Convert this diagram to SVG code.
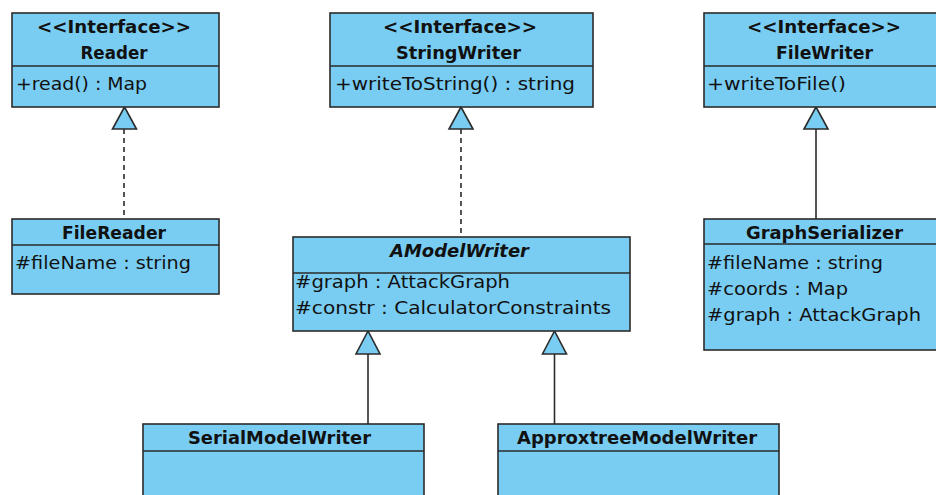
<svg xmlns="http://www.w3.org/2000/svg" width="936" height="495" viewBox="0 0 936 495">
  <style>
    .box { fill: #79cdf3; stroke: #2b2b2b; stroke-width: 1.6; }
    .sep { stroke: #2b2b2b; stroke-width: 1.6; fill: none; }
    .t { font-family: "DejaVu Sans", "Liberation Sans", sans-serif; font-size: 17px; fill: #111; }
    .b { font-weight: bold; text-anchor: middle; }
    .i { font-style: italic; }
    .edge { stroke: #2b2b2b; stroke-width: 1.6; fill: none; }
    .dash { stroke-dasharray: 5 4; }
    .head { fill: #79cdf3; stroke: #2b2b2b; stroke-width: 1.6; stroke-linejoin: miter; }
  </style>
  <rect width="936" height="495" fill="#ffffff"/>

  <!-- inheritance / realization connectors -->
  <g id="connectors">
    <line class="edge dash" x1="124" y1="129" x2="124" y2="219"/>
    <polygon class="head" points="124.5,107 112.5,129 136.5,129"/>
    <line class="edge dash" x1="461" y1="129" x2="461" y2="237"/>
    <polygon class="head" points="461,107 449,129 473,129"/>
    <line class="edge" x1="816" y1="129" x2="816" y2="219"/>
    <polygon class="head" points="816,107 804,129 828,129"/>
    <line class="edge" x1="368" y1="354" x2="368" y2="424"/>
    <polygon class="head" points="368,331 356,354 380,354"/>
    <line class="edge" x1="554.5" y1="354" x2="554.5" y2="424"/>
    <polygon class="head" points="554.5,331 542.5,354 566.5,354"/>
  </g>

  <g id="reader">
    <rect class="box" x="12" y="13" width="207" height="94"/>
    <line class="sep" x1="12" y1="66" x2="219" y2="66"/>
    <text class="t b" x="114" y="33" textLength="154" lengthAdjust="spacingAndGlyphs">&lt;&lt;Interface&gt;&gt;</text>
    <text class="t b" x="114" y="59" textLength="67" lengthAdjust="spacingAndGlyphs">Reader</text>
    <text class="t" x="16" y="90" textLength="131" lengthAdjust="spacingAndGlyphs">+read() : Map</text>
  </g>

  <g id="stringwriter">
    <rect class="box" x="330" y="13" width="263" height="94"/>
    <line class="sep" x1="330" y1="66" x2="593" y2="66"/>
    <text class="t b" x="460" y="33" textLength="154" lengthAdjust="spacingAndGlyphs">&lt;&lt;Interface&gt;&gt;</text>
    <text class="t b" x="458.5" y="59" textLength="125" lengthAdjust="spacingAndGlyphs">StringWriter</text>
    <text class="t" x="335" y="90" textLength="240" lengthAdjust="spacingAndGlyphs">+writeToString() : string</text>
  </g>

  <g id="filewriter">
    <rect class="box" x="704" y="13" width="240" height="94"/>
    <line class="sep" x1="704" y1="66" x2="944" y2="66"/>
    <text class="t b" x="824" y="33" textLength="154" lengthAdjust="spacingAndGlyphs">&lt;&lt;Interface&gt;&gt;</text>
    <text class="t b" x="824.5" y="59" textLength="97" lengthAdjust="spacingAndGlyphs">FileWriter</text>
    <text class="t" x="707" y="90" textLength="139" lengthAdjust="spacingAndGlyphs">+writeToFile()</text>
  </g>

  <g id="filereader">
    <rect class="box" x="12" y="219" width="207" height="75"/>
    <line class="sep" x1="12" y1="245" x2="219" y2="245"/>
    <text class="t b" x="114" y="238.5" textLength="104" lengthAdjust="spacingAndGlyphs">FileReader</text>
    <text class="t" x="15" y="268.5" textLength="176" lengthAdjust="spacingAndGlyphs">#fileName : string</text>
  </g>

  <g id="amodelwriter">
    <rect class="box" x="293" y="237" width="337" height="94"/>
    <line class="sep" x1="293" y1="273" x2="630" y2="273"/>
    <text class="t b i" x="459.5" y="257" textLength="139" lengthAdjust="spacingAndGlyphs">AModelWriter</text>
    <text class="t" x="295" y="288" textLength="215" lengthAdjust="spacingAndGlyphs">#graph : AttackGraph</text>
    <text class="t" x="295" y="314" textLength="316" lengthAdjust="spacingAndGlyphs">#constr : CalculatorConstraints</text>
  </g>

  <g id="graphserializer">
    <rect class="box" x="704" y="219" width="240" height="131"/>
    <line class="sep" x1="704" y1="244" x2="944" y2="244"/>
    <text class="t b" x="824.5" y="238.5" textLength="157" lengthAdjust="spacingAndGlyphs">GraphSerializer</text>
    <text class="t" x="707" y="268.5" textLength="176" lengthAdjust="spacingAndGlyphs">#fileName : string</text>
    <text class="t" x="707" y="294.5" textLength="141" lengthAdjust="spacingAndGlyphs">#coords : Map</text>
    <text class="t" x="707" y="320.5" textLength="214" lengthAdjust="spacingAndGlyphs">#graph : AttackGraph</text>
  </g>

  <g id="serialmodelwriter">
    <rect class="box" x="143" y="424" width="281" height="80"/>
    <line class="sep" x1="143" y1="451" x2="424" y2="451"/>
    <text class="t b" x="279.5" y="444" textLength="183" lengthAdjust="spacingAndGlyphs">SerialModelWriter</text>
  </g>

  <g id="approxtreemodelwriter">
    <rect class="box" x="498" y="424" width="281" height="80"/>
    <line class="sep" x1="498" y1="451" x2="779" y2="451"/>
    <text class="t b" x="637" y="444" textLength="240" lengthAdjust="spacingAndGlyphs">ApproxtreeModelWriter</text>
  </g>
</svg>
